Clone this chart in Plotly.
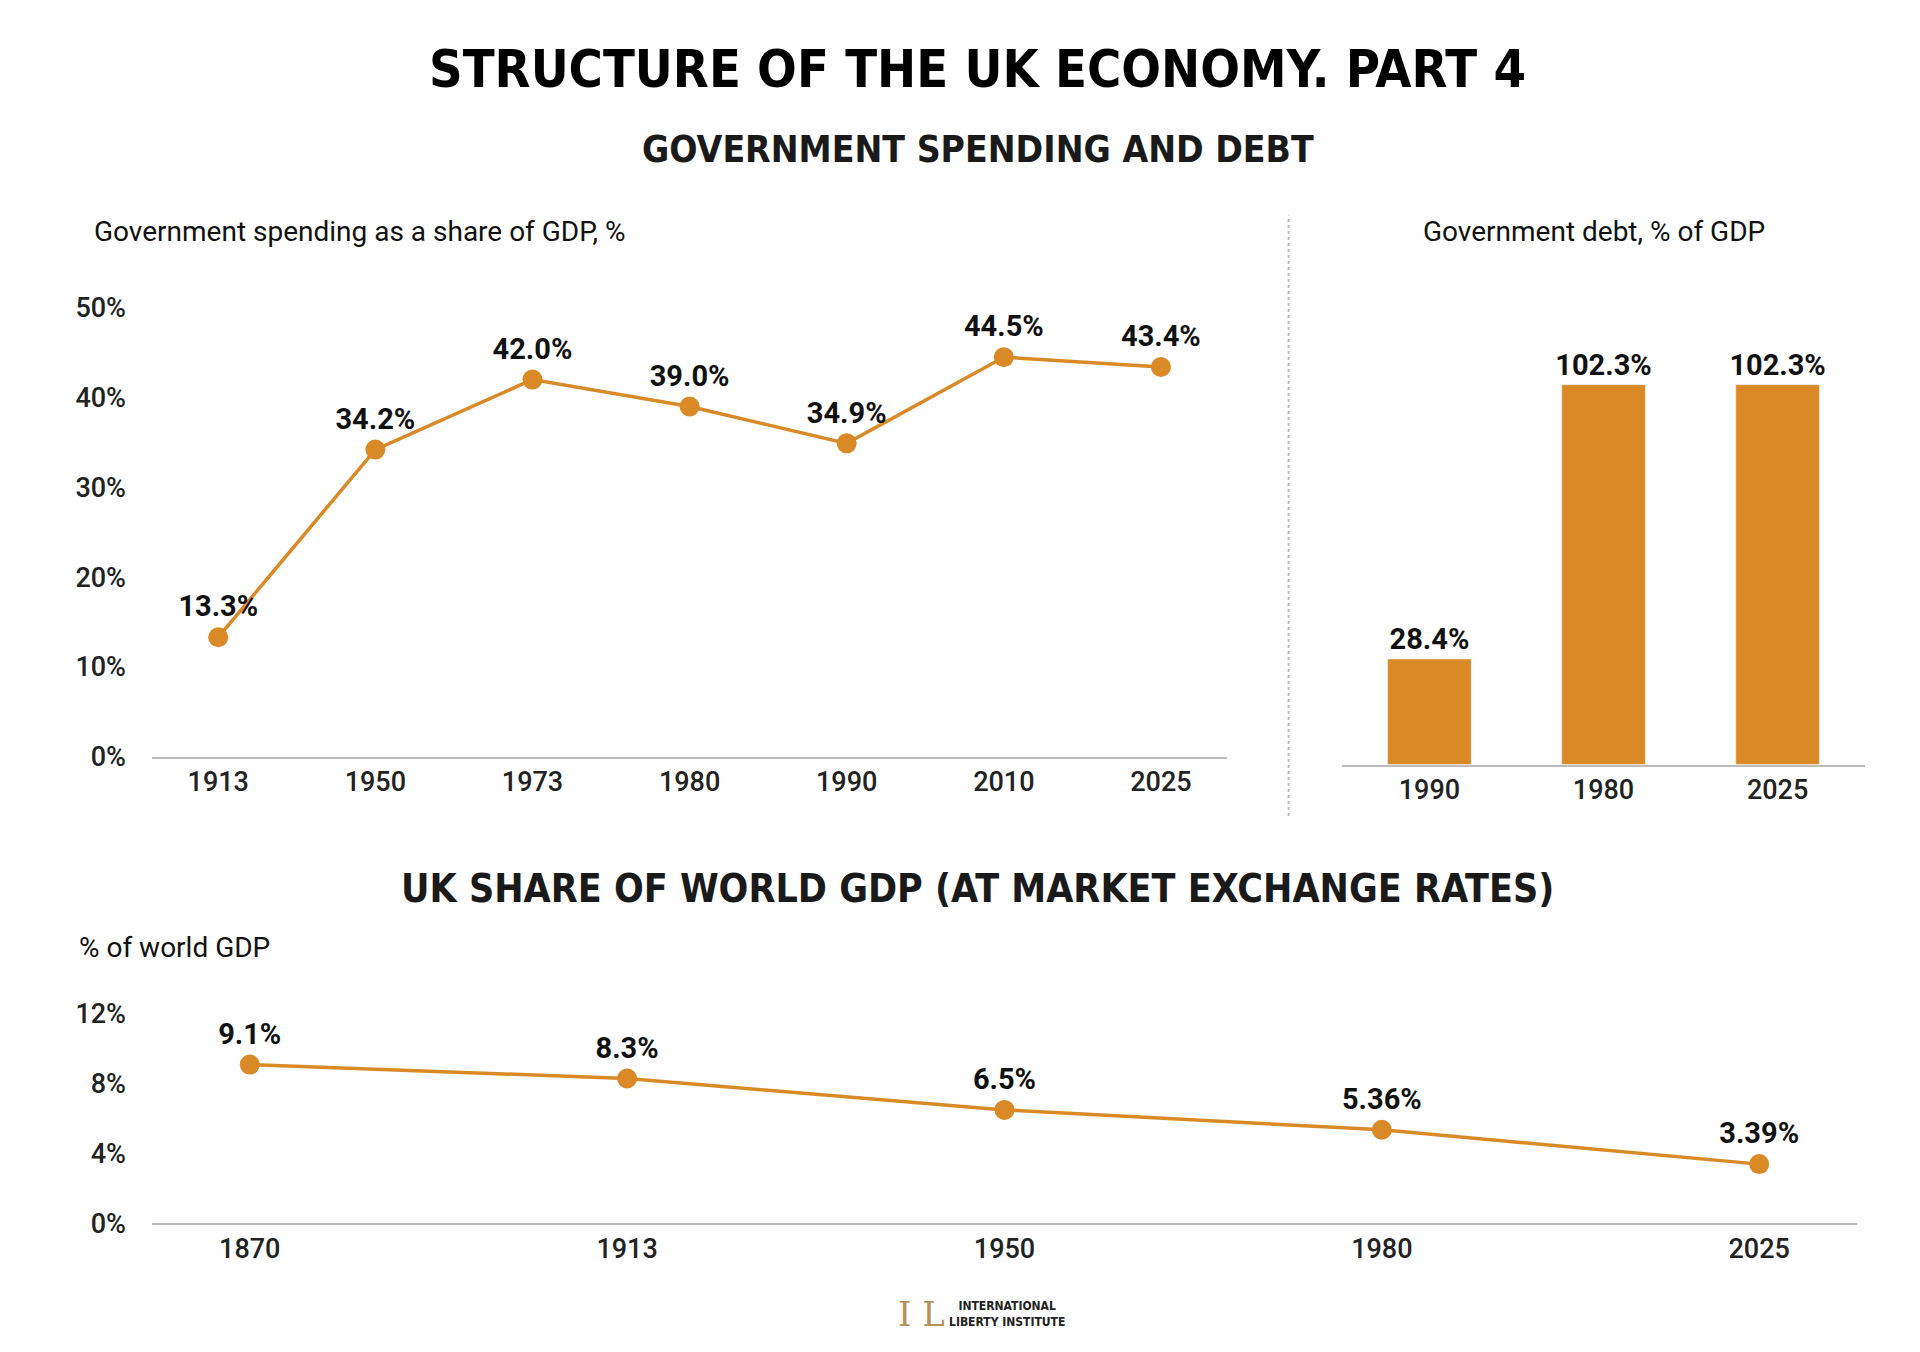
import plotly.graph_objects as go

ORANGE = "#D98A26"

# Government spending as a share of GDP
spend_years = ["1913", "1950", "1973", "1980", "1990", "2010", "2025"]
spend_vals = [13.3, 34.2, 42.0, 39.0, 34.9, 44.5, 43.4]
spend_ticks = [0, 10, 20, 30, 40, 50]

# Government debt
debt_years = ["1990", "1980", "2025"]
debt_vals = [28.4, 102.3, 102.3]

# UK share of world GDP
world_years = ["1870", "1913", "1950", "1980", "2025"]
world_vals = [9.1, 8.3, 6.5, 5.36, 3.39]
world_labels = ["9.1%", "8.3%", "6.5%", "5.36%", "3.39%"]
world_ticks = [0, 4, 8, 12]

FONT = "Roboto"
TITLE_FONT = "DejaVu Sans Condensed"

fig = go.Figure()

label_font = dict(family=FONT, size=29, color="#111", weight="bold")

fig.add_trace(go.Scatter(
    x=spend_years, y=spend_vals, mode="lines+markers+text",
    text=[f"{v:.1f}%" for v in spend_vals], textposition="top center",
    textfont=label_font,
    line=dict(color=ORANGE, width=3.5), marker=dict(color=ORANGE, size=20),
    xaxis="x", yaxis="y", cliponaxis=False))

fig.add_trace(go.Bar(
    x=debt_years, y=debt_vals, marker_color=ORANGE, width=0.48,
    text=[f"{v:.1f}%" for v in debt_vals], textposition="outside",
    textfont=label_font, constraintext="none",
    xaxis="x2", yaxis="y2", cliponaxis=False))

fig.add_trace(go.Scatter(
    x=world_years, y=world_vals, mode="lines+markers+text",
    text=world_labels, textposition="top center",
    textfont=label_font,
    line=dict(color=ORANGE, width=3.5), marker=dict(color=ORANGE, size=20),
    xaxis="x3", yaxis="y3", cliponaxis=False))

tick_font = dict(family=FONT, size=27, color="#222", weight=500)
axis_line = dict(showline=True, linecolor="#bbb", linewidth=2, ticks="",
                 showgrid=False, zeroline=False, tickfont=tick_font)

fig.update_layout(
    width=1920, height=1352, showlegend=False,
    paper_bgcolor="white", plot_bgcolor="white",
    margin=dict(l=0, r=0, t=0, b=0),
    xaxis=dict(domain=[0.075, 0.635], anchor="y", **axis_line),
    yaxis=dict(domain=[0.445, 0.785], range=[0, 50], tickvals=spend_ticks,
               ticktext=[f"{t}%" for t in spend_ticks],
               showgrid=False, zeroline=False, tickfont=tick_font,
               anchor="x", ticklabelstandoff=25),
    xaxis2=dict(domain=[0.695, 0.967], anchor="y2", **axis_line),
    yaxis2=dict(domain=[0.439, 0.785], range=[0, 123], visible=False, anchor="x2"),
    xaxis3=dict(domain=[0.075, 0.963], anchor="y3", **axis_line),
    yaxis3=dict(domain=[0.0915, 0.25], range=[0, 12], tickvals=world_ticks,
                ticktext=[f"{t}%" for t in world_ticks],
                showgrid=False, zeroline=False, tickfont=tick_font,
                anchor="x3", ticklabelstandoff=25),
)

def txt(x, y, s, size, family=FONT, color="#111", xanchor="center", bold=False):
    fig.add_annotation(x=x, y=y, xref="paper", yref="paper", showarrow=False,
                       text=f"<b>{s}</b>" if bold else s, xanchor=xanchor, yanchor="middle",
                       font=dict(family=family, size=size, color=color))

txt(0.505, 0.966, "STRUCTURE OF THE UK ECONOMY. PART 4", 52, TITLE_FONT, "#000", bold=True)
txt(0.505, 0.905, "GOVERNMENT SPENDING AND DEBT", 37, TITLE_FONT, "#1a1a1a", bold=True)
txt(0.044, 0.843, "Government spending as a share of GDP, %", 28, xanchor="left")
txt(0.826, 0.843, "Government debt, % of GDP", 28)
txt(0.505, 0.345, "UK SHARE OF WORLD GDP (AT MARKET EXCHANGE RATES)", 39, TITLE_FONT, "#1a1a1a", bold=True)
txt(0.036, 0.3, "% of world GDP", 28, xanchor="left")
txt(0.489, 0.023, "INTERNATIONAL<br>LIBERTY INSTITUTE", 12, TITLE_FONT, "#222", xanchor="left", bold=True)
txt(0.476, 0.023, "I L", 34, "DejaVu Serif", "#b89060")

fig.add_shape(type="line", xref="paper", yref="paper", x0=0.667, x1=0.667,
              y0=0.40, y1=0.855, line=dict(color="#bbb", width=2, dash="dot"))

fig.write_html("out.html")
